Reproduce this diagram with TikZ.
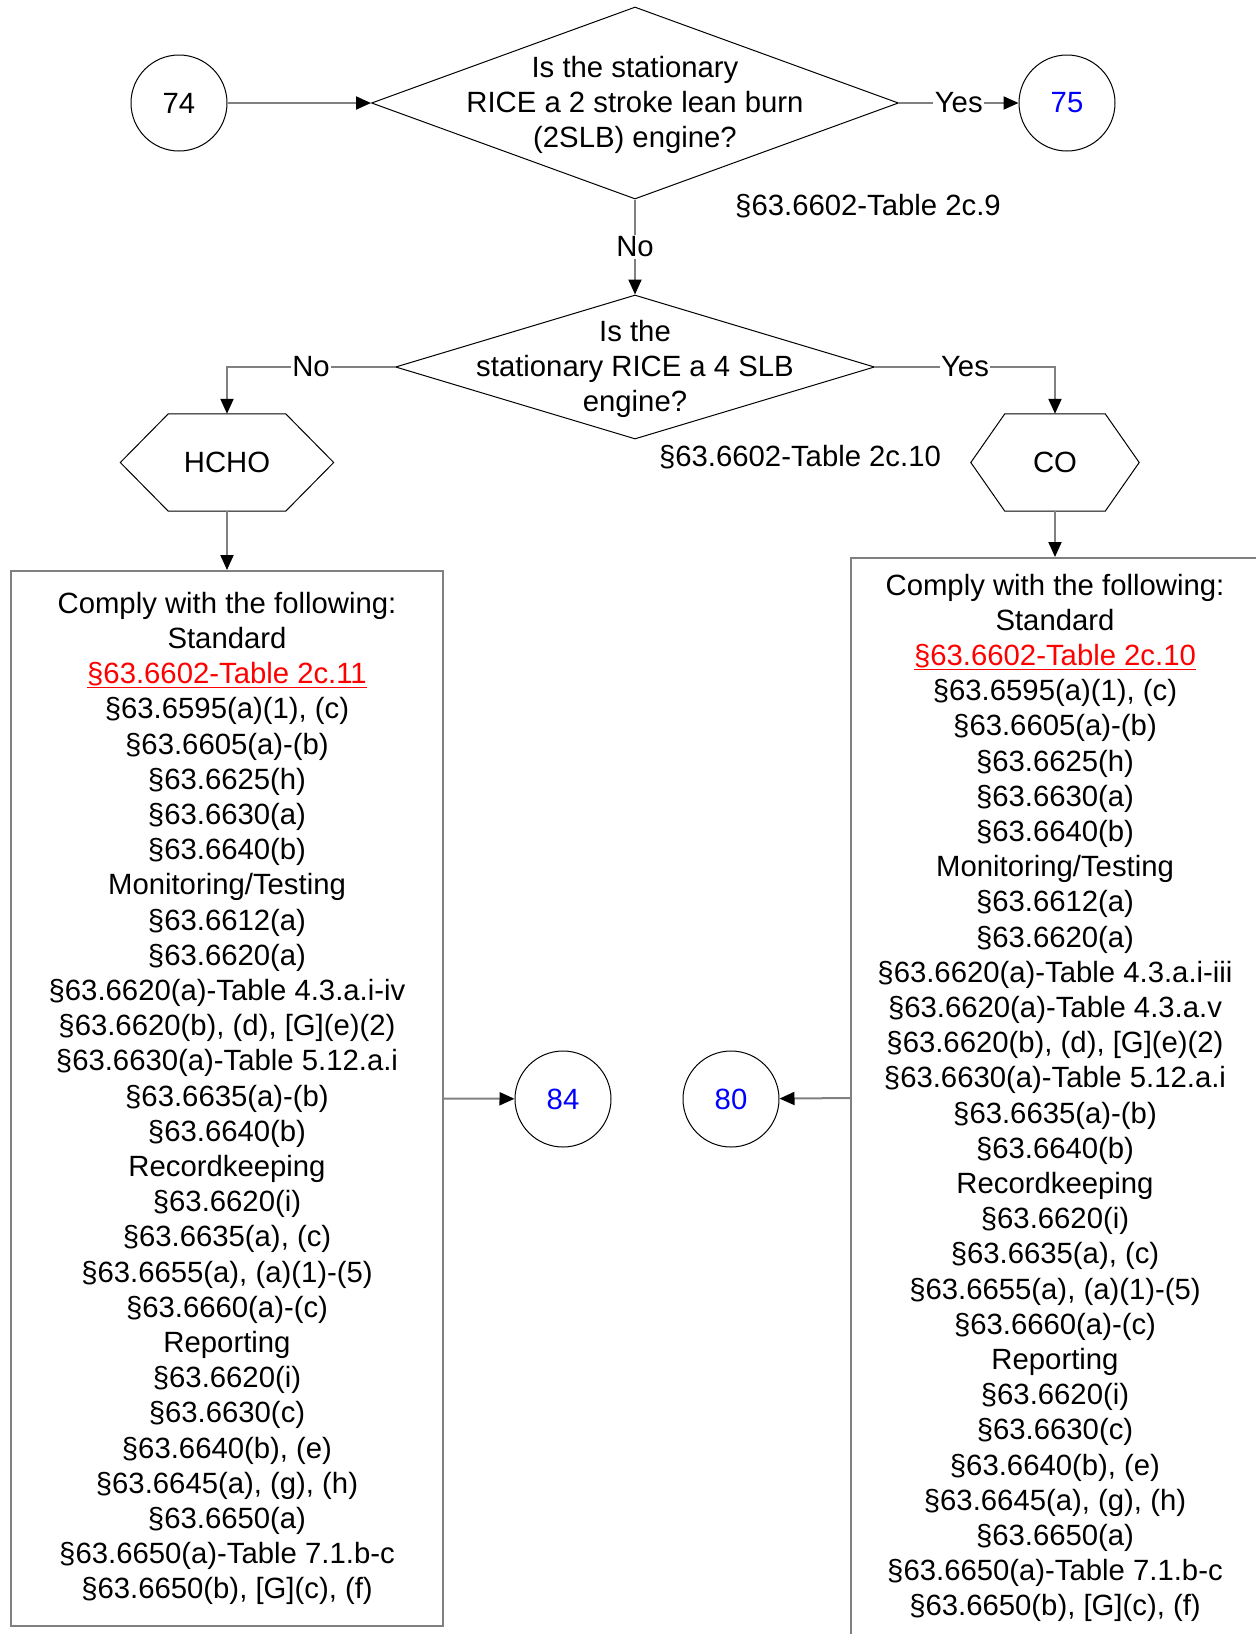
\documentclass[tikz,border=0pt]{standalone}
\usepackage{fontspec}
\setmainfont{Liberation Sans}
\usetikzlibrary{arrows.meta, shapes.geometric}
\definecolor{figGr}{RGB}{128,128,128}
\definecolor{figR}{RGB}{255,0,0}
\definecolor{figB}{RGB}{0,0,255}
\newcommand{\linkref}[1]{\textcolor{figR}{\underline{#1}}}
\newcommand{\hexoutline}[2]{%
  \draw[black, line width=1pt] (#1.west) -- ([xshift=#2]#1.north west) -- ([xshift=-#2]#1.north east)
    -- (#1.east) -- ([xshift=-#2]#1.south east) -- ([xshift=#2]#1.south west) -- cycle;}
\tikzset{
  every node/.style={font=\fontsize{29.3}{35.2}\selectfont},
  conn/.style={draw=figGr, line width=2pt, -{Triangle[length=15pt, width=13pt, color=black]}},
  lbl/.style={fill=white, inner sep=1.5pt},
  pageref/.style={circle, draw=black, line width=1pt, minimum size=96pt, inner sep=0pt},
  decision/.style={diamond, draw=black, line width=1pt, inner sep=0pt},
  hexbox/.style={rectangle, minimum height=97pt, inner sep=0pt},
  reqbox/.style={rectangle, draw=figGr, line width=2pt, align=center, inner sep=0pt}
}

\begin{document}
\begin{tikzpicture}[x=1pt, y=-1pt]
\useasboundingbox (0,0) rectangle (1256,1634);
% ---- top row: 74 -> question 1 -> 75 ----
\node[pageref] (p74) at (179,103) {74};
\node[decision, minimum width=527pt, minimum height=192pt] (q1) at (635,103) {};
\node[align=center] (q1txt) at (635,105) {Is the stationary\\RICE a 2 stroke lean burn\\(2SLB) engine?};
\node[pageref, text=figB] (p75) at (1067,103) {75};
\node (ref9) at (868,206) {§63.6602-Table 2c.9};
\draw[conn] (p74) -- (q1.west);
\draw[conn] (q1.east) -- node[lbl] {Yes} (p75);
% ---- question 2 ----
\node[decision, minimum width=479pt, minimum height=144pt] (q2) at (635,367) {};
\node[align=center] (q2txt) at (635,369) {Is the\\stationary RICE a 4 SLB\\engine?};
\node (ref10) at (800,457) {§63.6602-Table 2c.10};
\draw[conn] (q1.south) -- node[lbl] {No} (q2.north);
% ---- pollutant branches ----
\node[hexbox, minimum width=213pt] (hcho) at (227,462.5) {HCHO};
\hexoutline{hcho}{48pt}
\node[hexbox, minimum width=168pt] (co) at (1055,462.5) {CO};
\hexoutline{co}{34pt}
\draw[conn] (q2.west) -| node[lbl, pos=0.25] {No} (hcho.north);
\draw[conn] (q2.east) -| node[lbl, pos=0.25] {Yes} (co.north);
% ---- requirement boxes ----
\node[reqbox, minimum width=432pt, minimum height=1055pt] (hchobox) at (227,1098.5) {%
Comply with the following:\\
Standard\\
\linkref{§63.6602-Table 2c.11}\\
§63.6595(a)(1), (c)\\
§63.6605(a)-(b)\\
§63.6625(h)\\
§63.6630(a)\\
§63.6640(b)\\
Monitoring/Testing\\
§63.6612(a)\\
§63.6620(a)\\
§63.6620(a)-Table 4.3.a.i-iv\\
§63.6620(b), (d), [G](e)(2)\\
§63.6630(a)-Table 5.12.a.i\\
§63.6635(a)-(b)\\
§63.6640(b)\\
Recordkeeping\\
§63.6620(i)\\
§63.6635(a), (c)\\
§63.6655(a), (a)(1)-(5)\\
§63.6660(a)-(c)\\
Reporting\\
§63.6620(i)\\
§63.6630(c)\\
§63.6640(b), (e)\\
§63.6645(a), (g), (h)\\
§63.6650(a)\\
§63.6650(a)-Table 7.1.b-c\\
§63.6650(b), [G](c), (f)};
\node[reqbox, minimum width=408pt, minimum height=1080pt] (cobox) at (1055,1098) {%
Comply with the following:\\
Standard\\
\linkref{§63.6602-Table 2c.10}\\
§63.6595(a)(1), (c)\\
§63.6605(a)-(b)\\
§63.6625(h)\\
§63.6630(a)\\
§63.6640(b)\\
Monitoring/Testing\\
§63.6612(a)\\
§63.6620(a)\\
§63.6620(a)-Table 4.3.a.i-iii\\
§63.6620(a)-Table 4.3.a.v\\
§63.6620(b), (d), [G](e)(2)\\
§63.6630(a)-Table 5.12.a.i\\
§63.6635(a)-(b)\\
§63.6640(b)\\
Recordkeeping\\
§63.6620(i)\\
§63.6635(a), (c)\\
§63.6655(a), (a)(1)-(5)\\
§63.6660(a)-(c)\\
Reporting\\
§63.6620(i)\\
§63.6630(c)\\
§63.6640(b), (e)\\
§63.6645(a), (g), (h)\\
§63.6650(a)\\
§63.6650(a)-Table 7.1.b-c\\
§63.6650(b), [G](c), (f)};
\draw[conn] (hcho.south) -- (hchobox.north);
\draw[conn] (co.south) -- (cobox.north);
% ---- off-page references ----
\node[pageref, text=figB] (p84) at (563,1099) {84};
\node[pageref, text=figB] (p80) at (731,1099) {80};
\draw[conn] (hchobox.east) -- (p84);
\draw[conn] (cobox.west) -- (p80);
\end{tikzpicture}
\end{document}
